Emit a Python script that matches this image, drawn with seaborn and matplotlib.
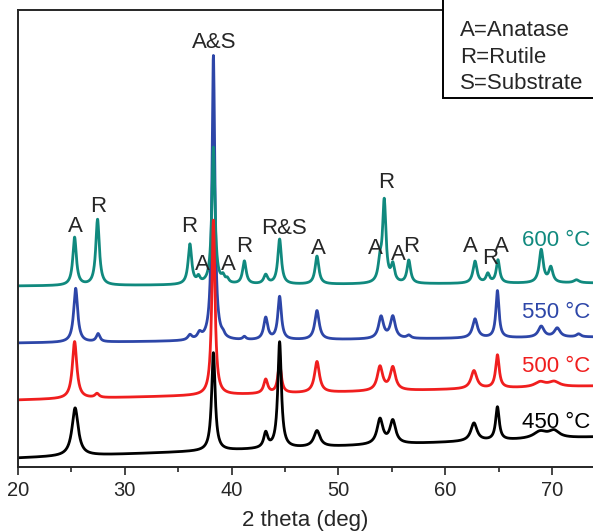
import numpy as np
import pandas as pd
import matplotlib
matplotlib.use("Agg")
import matplotlib.pyplot as plt
import seaborn as sns
from matplotlib.patches import Rectangle
from matplotlib.ticker import MultipleLocator

# peak tables: position (deg), height, FWHM
samples = ["450 °C", "500 °C", "550 °C", "600 °C"]
colors = {"450 °C": "#000000", "500 °C": "#f01e1e",
          "550 °C": "#2d46a8", "600 °C": "#10897e"}

base_450 = [9, 30]
pos_450 = [25.35, 38.3, 43.2, 44.5, 48.0, 53.9, 55.1, 62.7, 64.9, 68.9, 70.2]
hgt_450 = [48, 98, 15, 106, 16, 25, 23, 18, 33, 7, 7]
fwhm_450 = [0.7, 0.4, 0.45, 0.4, 0.7, 0.65, 0.65, 0.7, 0.4, 1.5, 1.2]

base_500 = [67, 81]
pos_500 = [25.3, 27.4, 38.3, 43.2, 44.5, 48.0, 53.9, 55.1, 62.7, 64.9, 68.9, 70.2]
hgt_500 = [57, 4, 175, 14, 29, 31, 24, 23, 18, 33, 5, 5]
fwhm_500 = [0.5, 0.45, 0.35, 0.45, 0.4, 0.55, 0.6, 0.6, 0.65, 0.4, 1.2, 1.2]

base_550 = [124, 130]
pos_550 = [25.4, 27.5, 36.1, 37.0, 38.3, 39.2, 41.2, 43.2, 44.5, 48.0,
           54.0, 55.1, 56.6, 62.8, 64.9, 69.0, 70.5, 72.5]
hgt_550 = [54, 8, 5, 6, 285, 3, 3, 22, 43, 29, 22, 22, 3, 19, 47, 11, 9, 3]
fwhm_550 = [0.45, 0.4, 0.45, 0.45, 0.32, 0.35, 0.35, 0.45, 0.4, 0.5,
            0.55, 0.55, 0.45, 0.55, 0.35, 0.65, 0.65, 0.5]

base_600 = [181, 184]
pos_600 = [25.3, 27.45, 36.1, 36.9, 38.3, 39.2, 39.6, 41.2, 43.2, 44.5, 48.0,
           53.9, 54.3, 55.1, 56.6, 62.8, 64.0, 64.95, 69.0, 69.9, 72.3]
hgt_600 = [48, 66, 40, 6, 137, 6, 4, 23, 9, 45, 28,
           18, 81, 17, 23, 22, 9, 23, 33, 15, 3]
fwhm_600 = [0.4, 0.4, 0.4, 0.35, 0.35, 0.35, 0.35, 0.4, 0.45, 0.4, 0.42,
            0.4, 0.38, 0.4, 0.4, 0.45, 0.4, 0.38, 0.45, 0.45, 0.6]

tables = {
    "450 °C": (base_450, pos_450, hgt_450, fwhm_450),
    "500 °C": (base_500, pos_500, hgt_500, fwhm_500),
    "550 °C": (base_550, pos_550, hgt_550, fwhm_550),
    "600 °C": (base_600, pos_600, hgt_600, fwhm_600),
}

peak_labels = [("A", 25.35, 240), ("R", 27.5, 261), ("R", 36.05, 240),
               ("A", 37.3, 202), ("A", 39.7, 202), ("R", 41.2, 220),
               ("R&S", 44.9, 238), ("A", 48.1, 218), ("A&S", 38.4, 425),
               ("R", 54.5, 284), ("A", 53.5, 219), ("A", 55.6, 212),
               ("R", 56.8, 220), ("A", 62.4, 221), ("R", 64.2, 209),
               ("A", 65.3, 220)]
temp_label_y = {"600 °C": 227, "550 °C": 154, "500 °C": 100, "450 °C": 45}

x = np.arange(20, 74.0, 0.02)
frames = []
for s in samples:
    base, pos, hgt, fw = tables[s]
    y = base[0] + (base[1] - base[0]) * (x - 20) / 54
    for p, h, w in zip(pos, hgt, fw):
        y = y + h / (1 + ((x - p) / (w / 2)) ** 2)
    frames.append(pd.DataFrame({"theta": x, "I": y, "sample": s}))
df = pd.concat(frames, ignore_index=True)

sns.set_style("ticks")
plt.rcParams["font.family"] = ["Liberation Sans", "DejaVu Sans"]

fig = plt.figure(figsize=(5.93, 5.32), dpi=100)
ax = fig.add_axes([18 / 593, 65 / 532, 575 / 593, 457 / 532])

sns.lineplot(data=df, x="theta", y="I", hue="sample",
             hue_order=["550 °C", "600 °C", "500 °C", "450 °C"],
             palette=colors, estimator=None, linewidth=2.0,
             legend=False, ax=ax)

ax.set_xlim(20, 73.85)
ax.set_ylim(0, 457)
ax.set_yticks([])
ax.set_ylabel("")
ax.xaxis.set_major_locator(MultipleLocator(10))
ax.xaxis.set_minor_locator(MultipleLocator(5))
ax.tick_params(axis="x", which="major", direction="out", length=6,
               width=1.2, labelsize=14.5, pad=4)
ax.tick_params(axis="x", which="minor", direction="out", length=3.5, width=1.2)
ax.set_xlabel("2 theta (deg)", fontsize=16, labelpad=7)
for side in ["left", "bottom", "top"]:
    ax.spines[side].set_linewidth(1.4)
ax.spines["right"].set_visible(False)

for txt, px, py in peak_labels:
    ax.text(px, py, txt, ha="center", va="center", fontsize=16)

for s, ty in temp_label_y.items():
    ax.text(73.55, ty, s, ha="right", va="center", fontsize=16,
            color=colors[s])

ax.add_patch(Rectangle((0.739, 0.807), 0.4, 0.3, transform=ax.transAxes,
                       facecolor="white", edgecolor="black", linewidth=1.4,
                       clip_on=False, zorder=5))
for txt, ty in zip(["A=Anatase", "R=Rutile", "S=Substrate"],
                   [0.956, 0.897, 0.840]):
    ax.text(0.769, ty, txt, transform=ax.transAxes, ha="left", va="center",
            fontsize=16, zorder=6)

fig.savefig("out.png", dpi=100)
